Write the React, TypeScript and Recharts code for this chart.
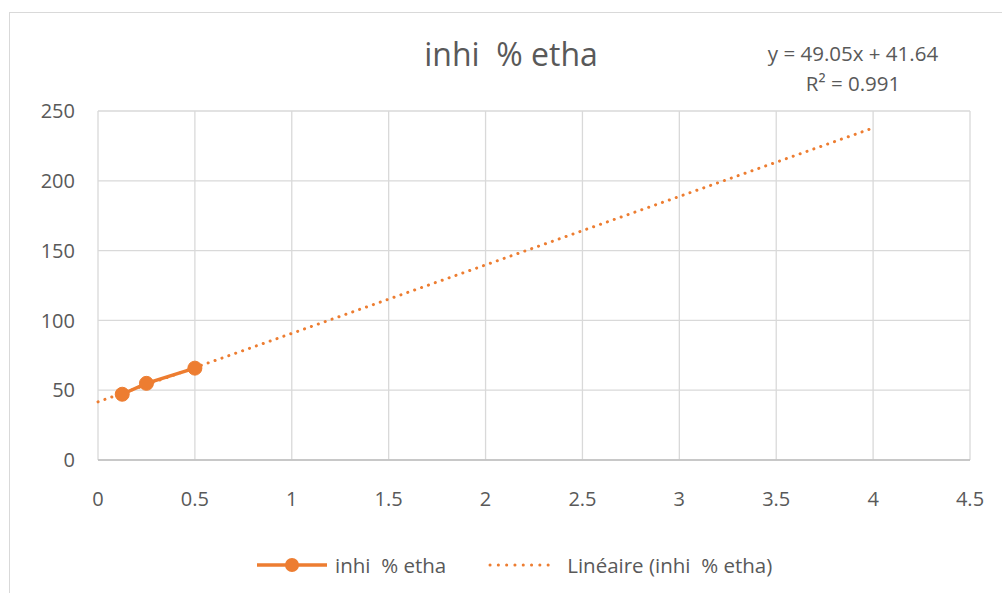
import React from "react";
import { ComposedChart, Line, XAxis, YAxis, CartesianGrid } from "recharts";

const ORANGE = "#ED7D31";
const TEXT = "#595959";
const FONT = "'Open Sans', sans-serif";

// measured concentrations and inhibition values
const concentrations = [0.125, 0.25, 0.5];
const inhibition = [47.1, 54.9, 65.8];

// linear fit shown on the chart
const slope = 49.05;
const intercept = 41.64;
const r2 = 0.991;
const trendRange = [0, 4];

const xTicks = [0, 0.5, 1, 1.5, 2, 2.5, 3, 3.5, 4, 4.5];
const yTicks = [0, 50, 100, 150, 200, 250];

const seriesName = "inhi  % etha";

const points = concentrations.map((x, i) => ({ x, y: inhibition[i] }));
const trend = trendRange.map((x) => ({ x, y: slope * x + intercept }));

export default function App() {
  return (
    <div
      style={{
        position: "absolute",
        left: 0,
        top: 0,
        width: 1002,
        height: 593,
        overflow: "hidden",
        background: "#fff",
        fontFamily: FONT,
        color: TEXT,
      }}
    >
      <div
        style={{
          position: "absolute",
          left: 9,
          top: 12,
          width: 1100,
          height: 700,
          border: "1.5px solid #d9d9d9",
        }}
      />
      <ComposedChart
        width={1002}
        height={593}
        margin={{ top: 111, right: 32, left: 0, bottom: 0 }}
        style={{ position: "absolute", left: 0, top: 0 }}
      >
        <CartesianGrid stroke="#d9d9d9" strokeWidth={1.3} />
        <XAxis
          type="number"
          dataKey="x"
          domain={[0, 4.5]}
          ticks={xTicks}
          interval={0}
          height={133}
          tickLine={false}
          tickSize={0}
          tickMargin={32}
          axisLine={{ stroke: "#bfbfbf", strokeWidth: 1.5 }}
          tick={{ fill: TEXT, fontSize: 20, fontFamily: FONT }}
        />
        <YAxis
          type="number"
          domain={[0, 250]}
          ticks={yTicks}
          interval={0}
          width={98}
          tickLine={false}
          axisLine={false}
          tickSize={0}
          tickMargin={23}
          tick={{ fill: TEXT, fontSize: 20, fontFamily: FONT }}
        />
        <Line
          data={points}
          dataKey="y"
          type="linear"
          stroke={ORANGE}
          strokeWidth={3.5}
          dot={{ r: 7, fill: ORANGE, stroke: ORANGE, strokeWidth: 1 }}
          isAnimationActive={false}
        />
        <Line
          data={trend}
          dataKey="y"
          type="linear"
          stroke={ORANGE}
          strokeWidth={3}
          strokeDasharray="0.1 7.2"
          strokeLinecap="round"
          dot={false}
          isAnimationActive={false}
        />
      </ComposedChart>

      <div
        style={{
          position: "absolute",
          left: 0,
          width: 1022,
          top: 34,
          textAlign: "center",
          fontSize: 32,
          lineHeight: "40px",
          whiteSpace: "pre",
        }}
      >
        {seriesName}
      </div>

      <div
        style={{
          position: "absolute",
          left: 753,
          width: 200,
          top: 38,
          textAlign: "center",
          fontSize: 20.5,
          lineHeight: "30px",
        }}
      >
        <div>{`y = ${slope}x + ${intercept}`}</div>
        <div>{`R² = ${r2}`}</div>
      </div>

      <div
        style={{
          position: "absolute",
          left: 256,
          top: 550,
          height: 30,
          display: "flex",
          alignItems: "center",
          fontSize: 20.5,
          whiteSpace: "pre",
        }}
      >
        <svg width={72} height={20} style={{ marginRight: 7 }}>
          <line x1={1} y1={10} x2={71} y2={10} stroke={ORANGE} strokeWidth={3.5} />
          <circle cx={36} cy={10} r={7} fill={ORANGE} />
        </svg>
        <span>{seriesName}</span>
        <svg width={70} height={20} style={{ marginLeft: 42, marginRight: 9 }}>
          <line
            x1={2}
            y1={10}
            x2={68}
            y2={10}
            stroke={ORANGE}
            strokeWidth={3}
            strokeDasharray="0.1 8.2"
            strokeLinecap="round"
          />
        </svg>
        <span>{`Linéaire (${seriesName})`}</span>
      </div>
    </div>
  );
}
